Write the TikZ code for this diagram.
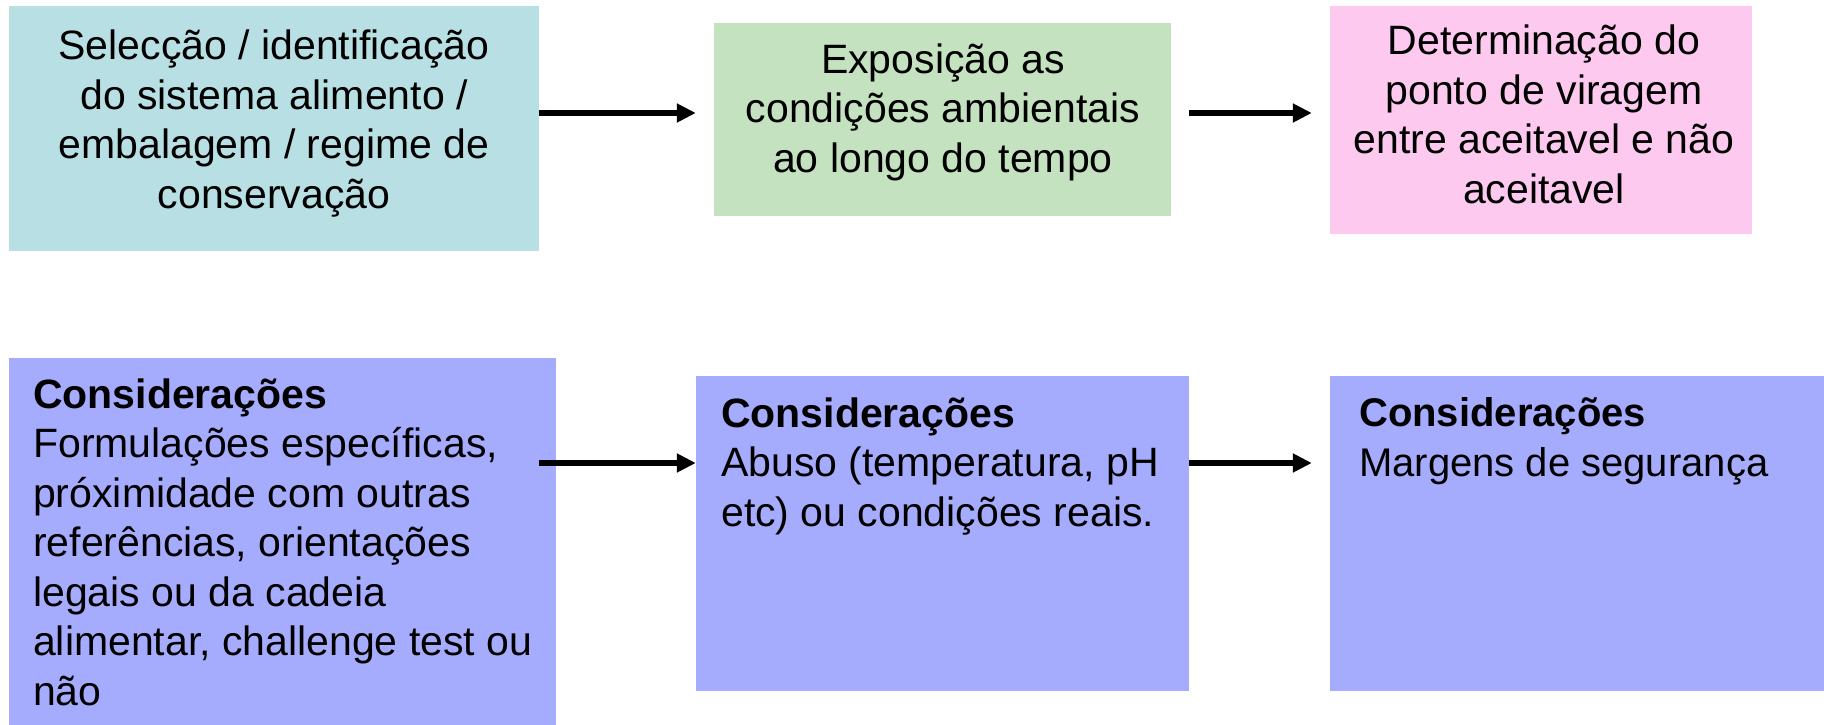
\documentclass[tikz,border=0pt]{standalone}
\usepackage{fontspec}
\setmainfont{Liberation Sans}
\usepackage{xcolor}
\usepackage{tikz}
\usetikzlibrary{arrows.meta}
\definecolor{boxteal}{RGB}{184,223,227}
\definecolor{boxgreen}{RGB}{196,226,192}
\definecolor{boxpink}{RGB}{253,201,239}
\definecolor{boxblue}{RGB}{166,172,253}

\begin{document}
\begin{tikzpicture}[x=1pt,y=-1pt,
  box/.style={fill=#1, draw=none, inner sep=0pt},
  toptext/.style={align=center, anchor=base, inner sep=0pt, font=\fontsize{41}{49.5}\selectfont},
  bottext/.style={align=left, anchor=base west, inner sep=0pt, font=\fontsize{41}{49.5}\selectfont},
  arr/.style={line width=6pt, -{Triangle[length=19pt,width=18pt]}}]
\useasboundingbox (0,0) rectangle (1824,725);

\node[box=boxteal, minimum width=530, minimum height=245] (sel) at (274,128.5) {};
\node[box=boxgreen, minimum width=457, minimum height=193] (expo) at (942.5,119.5) {};
\node[box=boxpink, minimum width=422, minimum height=228] (det) at (1541,120) {};
\node[box=boxblue, minimum width=547, minimum height=367] (cons1) at (282.5,541.5) {};
\node[box=boxblue, minimum width=493, minimum height=315] (cons2) at (942.5,533.5) {};
\node[box=boxblue, minimum width=494, minimum height=315] (cons3) at (1577,533.5) {};

\node[toptext] (selt) at (274,208) {Selecção / identificação\\do sistema alimento /\\embalagem / regime de\\conservação};
\node[toptext] (expot) at (943,172) {Exposição as\\condições ambientais\\ao longo do tempo};
\node[toptext] (dett) at (1544,203) {Determinação do\\ponto de viragem\\entre aceitavel e não\\aceitavel};

\node[bottext] (cons1t) at (33,705) {\textbf{Considerações}\\Formulações específicas,\\próximidade com outras\\referências, orientações\\legais ou da cadeia\\alimentar, challenge test ou\\não};
\node[bottext] (cons2t) at (721,526) {\textbf{Considerações}\\Abuso (temperatura, pH\\etc) ou condições reais.};
\node[bottext, font=\fontsize{40}{49.5}\selectfont] (cons3t) at (1359,476) {\textbf{Considerações}\\Margens de segurança};

\draw[arr] ([yshift=15.5pt]sel.east) -- ([xshift=-18pt,yshift=6.5pt]expo.west);
\draw[arr] ([xshift=18pt,yshift=6.5pt]expo.east) -- ([xshift=-18pt,yshift=7pt]det.west);
\draw[arr] ([xshift=-17pt,yshift=78.5pt]cons1.east) -- ([yshift=70.5pt]cons2.west);
\draw[arr] ([yshift=70.5pt]cons2.east) -- ([xshift=-18pt,yshift=70.5pt]cons3.west);
\end{tikzpicture}
\end{document}
